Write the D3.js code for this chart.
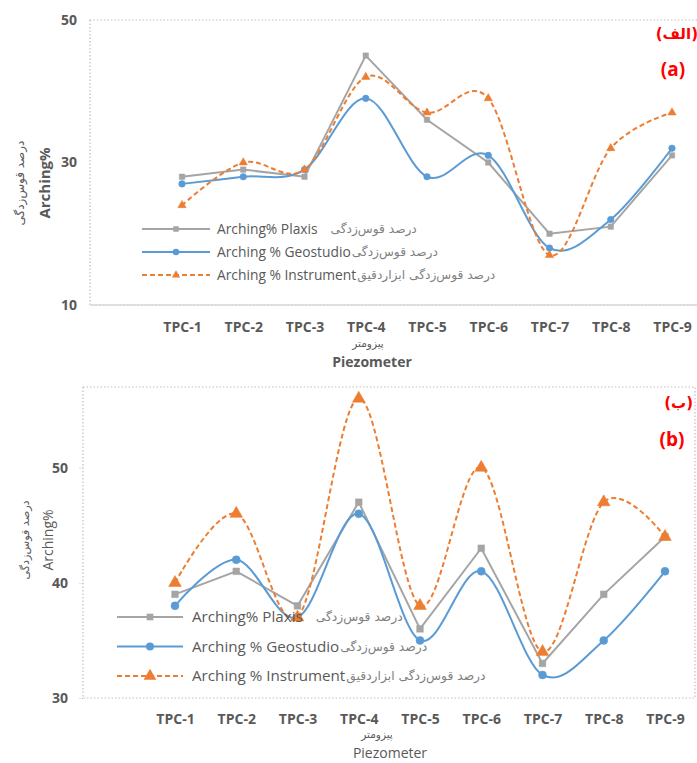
<!DOCTYPE html>
<html>
<head>
<meta charset="utf-8">
<script src="https://cdn.jsdelivr.net/npm/d3@7/dist/d3.min.js"></script>
<style>
  html, body { margin: 0; padding: 0; background: #ffffff; }
  svg { display: block; font-family: "Open Sans", "DejaVu Sans", sans-serif; }
</style>
</head>
<body>
<svg id="chart" width="697" height="763"></svg>
<script>
// Piezometer categories shared by both panels
const categories = ["TPC-1", "TPC-2", "TPC-3", "TPC-4", "TPC-5", "TPC-6", "TPC-7", "TPC-8", "TPC-9"];

// Panel (a) arching percentages
const plaxisA     = [28, 29, 28, 45, 36, 30, 20, 21, 31];
const geostudioA  = [27, 28, 29, 39, 28, 31, 18, 22, 32];
const instrumentA = [24, 30, 29, 42, 37, 39, 17, 32, 37];
const ticksA = [10, 30, 50];

// Panel (b) arching percentages
const plaxisB     = [39, 41, 38, 47, 36, 43, 33, 39, 44];
const geostudioB  = [38, 42, 37, 46, 35, 41, 32, 35, 41];
const instrumentB = [40, 46, 37, 56, 38, 50, 34, 47, 44];
const ticksB = [30, 40, 50];

// Legend texts (English part, Persian part)
const seriesNamesEn = ["Arching% Plaxis", "Arching % Geostudio", "Arching % Instrument"];
const seriesNamesFa = ["درصد قوس‌زدگی", "درصد قوس‌زدگی", "درصد قوس‌زدگی ابزاردقیق"];
const gapsFa = [12, 0, 0];

const yTitleEn = "Arching%";
const yTitleFa = "درصد قوس‌زدگی";
const xTitleEn = "Piezometer";
const xTitleFa = "پیزومتر";

const colors = ["#a5a5a5", "#5b9bd5", "#ed7d31"];
const textGray = "#595959";

const svg = d3.select("#chart");

function drawPanel(p) {
  const g = svg.append("g");
  const x = d3.scalePoint().domain(categories).range([p.x0, p.x1]);
  const y = d3.scaleLinear().domain(p.yDomain).range([p.bottom, p.top]);

  // plot area border (dotted)
  g.append("rect")
    .attr("x", p.left).attr("y", p.top)
    .attr("width", p.right - p.left).attr("height", p.bottom - p.top)
    .attr("fill", "none").attr("stroke", "#bfbfbf")
    .attr("stroke-width", 1.2).attr("stroke-dasharray", "1.5,2");

  if (p.solidBase) {
    g.append("line")
      .attr("x1", p.left).attr("x2", p.right)
      .attr("y1", p.bottom).attr("y2", p.bottom)
      .attr("stroke", "#d9d9d9").attr("stroke-width", 1.5);
  }

  // y axis labels
  const yAxis = d3.axisLeft(y).tickValues(p.ticks).tickSize(p.tickLen).tickPadding(p.tickPad);
  const ya = g.append("g").attr("transform", `translate(${p.left},0)`).call(yAxis);
  ya.select(".domain").remove();
  ya.selectAll(".tick line").attr("stroke", "#bfbfbf").attr("stroke-dasharray", "1,1.5");
  ya.selectAll(".tick text")
    .attr("fill", textGray).attr("font-size", p.tickFont).attr("font-weight", "bold")
    .attr("font-family", "'Open Sans', sans-serif");

  // x axis labels
  const xAxis = d3.axisBottom(x).tickSize(0).tickPadding(0);
  const xa = g.append("g").attr("transform", `translate(0,${p.xLabelY})`).call(xAxis);
  xa.select(".domain").remove();
  xa.selectAll(".tick text")
    .attr("fill", textGray).attr("font-size", p.tickFont).attr("font-weight", "bold")
    .attr("dy", "0.35em").attr("font-family", "'Open Sans', sans-serif");

  // axis titles
  g.append("text").attr("x", p.xFaX).attr("y", p.xFaY)
    .attr("text-anchor", "middle").attr("fill", textGray)
    .attr("font-size", 10.5).attr("font-family", "'DejaVu Sans', sans-serif")
    .text(xTitleFa);
  g.append("text").attr("x", p.xTitleX).attr("y", p.xTitleY)
    .attr("text-anchor", "middle").attr("fill", textGray)
    .attr("font-size", p.xTitleSize).attr("font-weight", p.titleWeight)
    .text(xTitleEn);

  g.append("text")
    .attr("transform", `translate(${p.yFaX},${p.yTitleCY}) rotate(-90)`)
    .attr("text-anchor", "middle").attr("fill", textGray)
    .attr("font-size", p.yFaSize).attr("font-family", "'DejaVu Sans', sans-serif")
    .text(yTitleFa);
  g.append("text")
    .attr("transform", `translate(${p.yTitleX},${p.yTitleCY}) rotate(-90)`)
    .attr("text-anchor", "middle").attr("fill", textGray)
    .attr("font-size", p.yTitleSize).attr("font-weight", p.titleWeight)
    .text(yTitleEn);

  // series
  const seriesData = [p.plaxis, p.geostudio, p.instrument];
  const curves = [d3.curveLinear, d3.curveCatmullRom.alpha(0), d3.curveCatmullRom.alpha(0)];
  const dashes = [null, null, "5,3"];

  seriesData.forEach((vals, i) => {
    const pts = categories.map((c, k) => [x(c), y(vals[k])]);
    g.append("path")
      .attr("d", d3.line().curve(curves[i])(pts))
      .attr("fill", "none").attr("stroke", colors[i])
      .attr("stroke-width", 2).attr("stroke-dasharray", dashes[i]);
  });

  const symbols = [d3.symbolSquare, d3.symbolCircle, d3.symbolTriangle];
  seriesData.forEach((vals, i) => {
    g.selectAll(null).data(vals).enter().append("path")
      .attr("transform", (v, k) => `translate(${x(categories[k])},${y(v)})`)
      .attr("d", d3.symbol().type(symbols[i]).size(p.markerSizes[i]))
      .attr("fill", colors[i]).attr("stroke", colors[i]).attr("stroke-width", 0.5);
  });

  // legend
  seriesNamesEn.forEach((name, i) => {
    const ly = p.legendY + i * p.legendStep;
    const lg = g.append("g");
    lg.append("line")
      .attr("x1", p.legendX0).attr("x2", p.legendX1)
      .attr("y1", ly).attr("y2", ly)
      .attr("stroke", colors[i]).attr("stroke-width", 2)
      .attr("stroke-dasharray", dashes[i]);
    lg.append("path")
      .attr("transform", `translate(${(p.legendX0 + p.legendX1) / 2},${ly})`)
      .attr("d", d3.symbol().type(symbols[i]).size(p.markerSizes[i]))
      .attr("fill", colors[i]);
    const t = lg.append("text")
      .attr("x", p.legendTextX).attr("y", ly).attr("dy", "0.35em")
      .attr("fill", textGray).attr("font-size", p.legendFont)
      .text(name);
    const w = t.node().getComputedTextLength();
    lg.append("text")
      .attr("x", p.legendTextX + w + gapsFa[i] + 1).attr("y", ly).attr("dy", "0.35em")
      .attr("fill", "#7f7f7f").attr("font-size", p.legendFaFont)
      .attr("font-family", "'DejaVu Sans', sans-serif")
      .text(seriesNamesFa[i]);
  });

  // panel tags
  g.append("text").attr("x", p.right - 2).attr("y", p.tagFaY)
    .attr("text-anchor", "end").attr("fill", "#ff0000")
    .attr("font-size", 15).attr("font-weight", "bold")
    .attr("font-family", "'DejaVu Sans', sans-serif")
    .text(p.tagFa);
  g.append("text").attr("x", p.tagX).attr("y", p.tagY)
    .attr("text-anchor", "middle").attr("fill", "#ff0000")
    .attr("font-size", 19).attr("font-weight", "bold")
    .text(p.tag);
}

drawPanel({
  left: 90, right: 700, top: 20, bottom: 305, x0: 182, x1: 672,
  yDomain: [10, 50], ticks: ticksA, tickLen: 0, tickPad: 13, tickFont: 14,
  solidBase: true, xLabelY: 327,
  xFaX: 368, xFaY: 347, xTitleX: 372, xTitleY: 367, xTitleSize: 14, titleWeight: "bold",
  yFaX: 24, yFaSize: 12, yTitleX: 50, yTitleCY: 183, yTitleSize: 15,
  plaxis: plaxisA, geostudio: geostudioA, instrument: instrumentA,
  markerSizes: [30, 34, 30],
  legendX0: 142, legendX1: 210, legendTextX: 217, legendY: 229, legendStep: 23,
  legendFont: 13.8, legendFaFont: 12.2,
  tagFa: "(الف)", tagFaY: 39, tag: "(a)", tagX: 673, tagY: 76
});

drawPanel({
  left: 83, right: 695, top: 387, bottom: 698, x0: 175, x1: 665,
  yDomain: [30, 57], ticks: ticksB, tickLen: 5, tickPad: 10, tickFont: 14,
  solidBase: false, xLabelY: 719,
  xFaX: 377, xFaY: 738, xTitleX: 390, xTitleY: 758, xTitleSize: 14, titleWeight: "normal",
  yFaX: 29, yFaSize: 11.2, yTitleX: 53, yTitleCY: 540, yTitleSize: 14,
  plaxis: plaxisB, geostudio: geostudioB, instrument: instrumentB,
  markerSizes: [44, 50, 70],
  legendX0: 117, legendX1: 183, legendTextX: 192, legendY: 617, legendStep: 29.5,
  legendFont: 15.2, legendFaFont: 12.3,
  tagFa: "(ب)", tagFaY: 408, tag: "(b)", tagX: 672, tagY: 446
});
</script>
</body>
</html>
